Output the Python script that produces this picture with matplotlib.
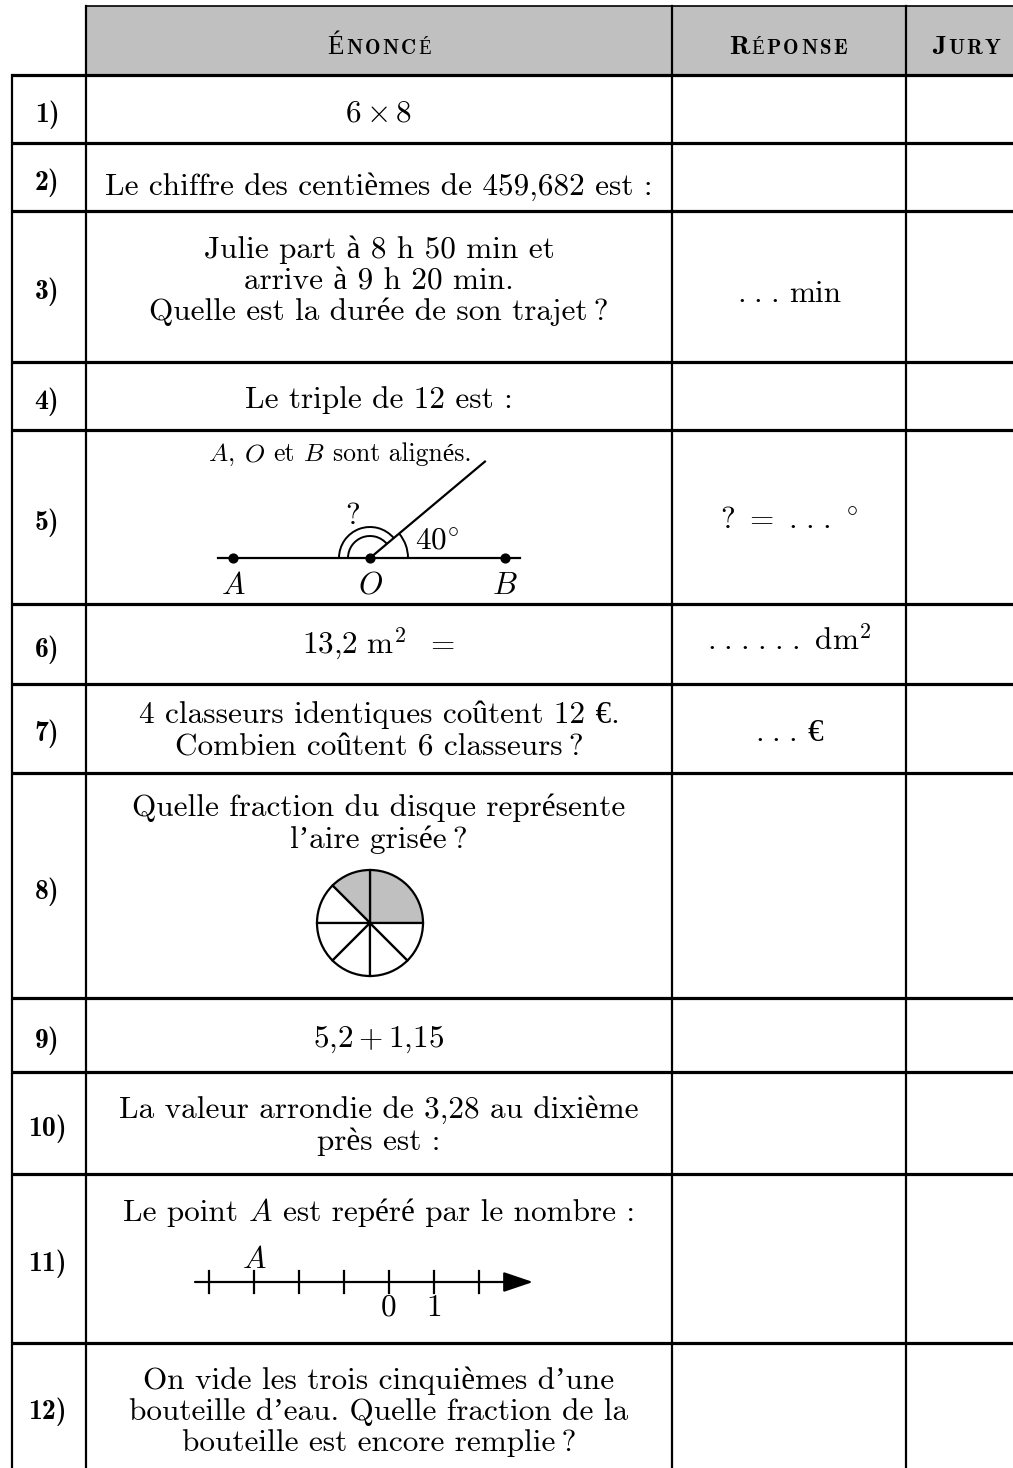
import matplotlib.pyplot as plt
from matplotlib.patches import Wedge, Arc, Rectangle
import numpy as np

W, H = 1013, 1468

# table layout (pixels from the top of the page)
col_edges = [12, 86, 672, 906]
header_top, header_bottom = 6, 75
row_edges = [75, 143, 211, 362, 430, 604, 684, 773, 998, 1072, 1174, 1343, 1468]
row_labels = ['1)', '2)', '3)', '4)', '5)', '6)', '7)', '8)', '9)', '10)', '11)', '12)']
headers = [('É', 'NONCÉ'), ('R', 'ÉPONSE'), ('J', 'URY')]
header_x = [379, 788, 966]

# question text, one list of lines per row (each line = list of pieces)
questions = [
    [[(r'$6 \times 8$', 'm')]],
    [[('Le chiffre des centièmes de 459,682 est :', 'rm')]],
    [[('Julie part à 8 h 50 min et', 'rm')],
     [('arrive à 9 h 20 min.', 'rm')],
     [('Quelle est la durée de son trajet\u2009?', 'rm')]],
    [[('Le triple de 12 est :', 'rm')]],
    [],
    [[(r'$13{,}2\ \mathrm{m}^2\ \ =$', 'm')]],
    [[('4 classeurs identiques coûtent 12 €.', 'rm')],
     [('Combien coûtent 6 classeurs\u2009?', 'rm')]],
    [[('Quelle fraction du disque représente', 'rm')],
     [('l’aire grisée\u2009?', 'rm')]],
    [[(r'$5{,}2 + 1{,}15$', 'm')]],
    [[('La valeur arrondie de 3,28 au dixième', 'rm')],
     [('près est :', 'rm')]],
    [[('Le point', 'rm'), (r'$A$', 'm'), ('est repéré par le nombre :', 'rm')]],
    [[('On vide les trois cinquièmes d’une', 'rm')],
     [('bouteille d’eau. Quelle fraction de la', 'rm')],
     [('bouteille est encore remplie\u2009?', 'rm')]],
]
question_y = [[121], [195], [258, 289, 320], [408], [], [653], [723, 755],
              [816, 848], [1047], [1118, 1150], [1221], [1389, 1420, 1451]]

# answers column
dots3 = r'.\hspace{0.1}.\hspace{0.1}.'
answers = {2: [('$' + dots3 + '$', 'm'), ('min', 'rm')],
           4: [(r'$?\ =\ ' + dots3 + r'\ ^{\circ}$', 'm')],
           5: [('$' + dots3 + r'\hspace{0.1}' + dots3 + r'\ \mathrm{dm}^2$', 'm')],
           6: [('$' + dots3 + '$', 'm'), ('€', 'rm')]}
answer_y = {2: 302, 4: 528, 5: 651, 6: 741}

# figure of row 5 : A, O, B aligned, ray at 40 degrees
pts_x = [233, 370, 505]
pts_names = ['$A$', '$O$', '$B$']
line_y = 558
ray_angle = 40
# figure of row 8 : disc cut in sectors (angles in degrees), shaded or not
sector_bounds = [0, 90, 135, 180, 225, 270, 315, 360]
sector_shaded = [True, True, False, False, False, False, False]
# figure of row 11 : number line
tick_values = [-4, -3, -2, -1, 0, 1, 2]
point_A = -3

plt.rcParams['mathtext.fontset'] = 'cm'
rm_family = ['cmr10', 'Liberation Serif']
bf_family = ['cmb10', 'Liberation Serif']

fig = plt.figure(figsize=(W / 100, H / 100), dpi=100)
ax = fig.add_axes([0, 0, 1, 1])
ax.set_xlim(0, W)
ax.set_ylim(H, 0)
ax.axis('off')
renderer = fig.canvas.get_renderer()
SIZE = 22.5


def put(x, y, parts, size=SIZE, gap=True, ha='center'):
    # draw pieces side by side, measuring each one
    texts = []
    for s, st in parts:
        fam = bf_family if st == 'bf' else rm_family
        texts.append(ax.text(0, y, s, family=fam, fontsize=size, va='baseline', ha='left'))
    widths = [t.get_window_extent(renderer).width for t in texts]
    sp = size * 0.333 * 100 / 72 if gap else 0
    total = sum(widths) + sp * (len(texts) - 1)
    x0 = x - total / 2 if ha == 'center' else x
    for t, w in zip(texts, widths):
        t.set_x(x0)
        x0 += w + sp


def small_caps(x, y, big, small, track=2.2):
    # first letter large, the rest in smaller capitals, letter spaced
    texts = [ax.text(0, y, big, family=bf_family, fontsize=19.5, va='baseline')]
    texts += [ax.text(0, y, c, family=bf_family, fontsize=15, va='baseline') for c in small]
    widths = [t.get_window_extent(renderer).width for t in texts]
    total = sum(widths) + track * (len(texts) - 1)
    x0 = x - total / 2
    for t, w in zip(texts, widths):
        t.set_x(x0)
        x0 += w + track


# header
ax.add_patch(Rectangle((col_edges[1], header_top), W - col_edges[1], header_bottom - header_top,
                       facecolor='#c0c0c0', edgecolor='none'))
ax.plot([col_edges[1], W], [header_top, header_top], color='k', lw=1.2)
for (big, small), hx in zip(headers, header_x):
    small_caps(hx, 54, big, small)

# grid lines
for y in row_edges[:-1]:
    ax.plot([col_edges[0], W], [y, y], color='k', lw=2.3, solid_capstyle='butt')
ax.plot([col_edges[0], col_edges[0]], [row_edges[0], H], color='k', lw=1.6)
for x in col_edges[1:]:
    ax.plot([x, x], [header_top, H], color='k', lw=1.6)

# row labels
for i, lab in enumerate(row_labels):
    yc = (row_edges[i] + row_edges[i + 1]) / 2
    ax.text(47, yc + 13, lab, family=bf_family, fontsize=20, ha='center', va='baseline')

# questions
qx = (col_edges[1] + col_edges[2]) / 2
for lines, ys in zip(questions, question_y):
    for parts, y in zip(lines, ys):
        put(qx, y, parts)

# answers
ansx = (col_edges[2] + col_edges[3]) / 2
for k, parts in answers.items():
    put(ansx, answer_y[k], parts)

# row 5 drawing
put(340, 461, [(r'$A$,', 'm'), (r'$O$', 'm'), ('et', 'rm'), (r'$B$', 'm'), ('sont alignés.', 'rm')], size=18.5)
ox = pts_x[1]
ax.plot([218, 520], [line_y, line_y], color='k', lw=1.6)
L = 150
ax.plot([ox, ox + L * np.cos(np.radians(ray_angle))],
        [line_y, line_y - L * np.sin(np.radians(ray_angle))], color='k', lw=1.6)
ax.scatter(pts_x, [line_y] * 3, s=40, color='k', zorder=5)
for px, name in zip(pts_x, pts_names):
    ax.text(px, 594, name, fontsize=SIZE, ha='center', va='baseline')
ax.add_patch(Arc((ox, line_y), 76, 76, theta1=-ray_angle, theta2=0, color='k', lw=1.4))
for r in (22, 31):
    ax.add_patch(Arc((ox, line_y), 2 * r, 2 * r, theta1=-180, theta2=-ray_angle, color='k', lw=1.4))
ax.text(353, 524, '?', family=rm_family, fontsize=SIZE, ha='center', va='baseline')
ax.text(415, 550, r'$40^{\circ}$', fontsize=SIZE, ha='left', va='baseline')

# row 8 drawing : disc
cx, cy, rad = 370, 923, 53
for t1, t2, sh in zip(sector_bounds[:-1], sector_bounds[1:], sector_shaded):
    ax.add_patch(Wedge((cx, cy), rad, -t2, -t1, facecolor='#c0c0c0' if sh else 'white',
                       edgecolor='k', lw=1.6))

# row 11 drawing : number line
nl_y, x0, unit = 1282, 389, 45
ax.annotate('', xy=(533, nl_y), xytext=(195, nl_y),
            arrowprops=dict(arrowstyle='-|>,head_length=0.65,head_width=0.22', lw=1.6,
                            color='k', mutation_scale=28, shrinkA=0, shrinkB=0))
for v in tick_values:
    ax.plot([x0 + v * unit] * 2, [nl_y - 11, nl_y + 11], color='k', lw=1.6)
ax.text(x0 + point_A * unit, 1268, '$A$', fontsize=SIZE, ha='center', va='baseline')
for v in (0, 1):
    ax.text(x0 + v * unit, 1316, str(v), family=rm_family, fontsize=SIZE, ha='center', va='baseline')

fig.savefig('out.png', dpi=100, facecolor='white')
